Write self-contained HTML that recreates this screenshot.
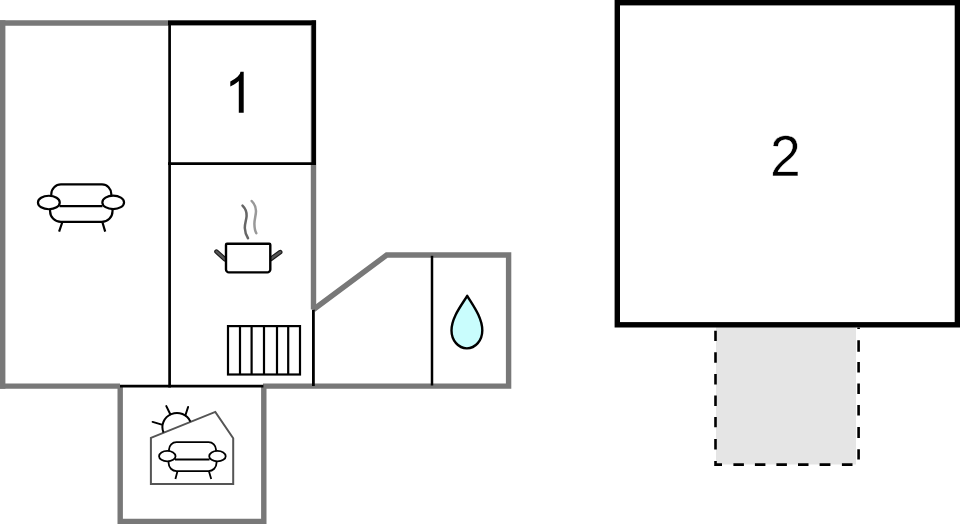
<!DOCTYPE html>
<html>
<head>
<meta charset="utf-8">
<style>
html,body{margin:0;padding:0;background:#fff;}
body{width:960px;height:524px;overflow:hidden;position:relative;font-family:"Liberation Sans",sans-serif;}
svg{position:absolute;left:0;top:0;display:block;}
</style>
</head>
<body>
<svg width="960" height="524" viewBox="0 0 960 524">
  <!-- dashed outdoor area -->
  <rect x="716" y="327" width="140" height="137.5" fill="#e5e5e5"/>
  <g stroke="#000" stroke-width="2.6" fill="none">
    <path d="M715.5 330.7V341M715.5 352.3V362.8M715.5 373.9V384.4M715.5 395.5V406M715.5 417V427.3M715.5 439.1V449.6M715.5 461V464.6H722"/>
    <path d="M733.4 464.6H743.9M754.9 464.6H765.4M776.4 464.6H786.9M798 464.6H808.5M819.6 464.6H830.4M841.9 464.6H852.5"/>
    <path d="M858.6 340.2V351.7M858.6 362V372.6M858.6 383.5V394M858.6 405V415.5M858.6 427V437.9M858.6 449.3V459.6M858.6 327.5V329"/>
  </g>

  <!-- grey walls -->
  <g stroke="#787878" stroke-width="5.4" fill="none" stroke-linejoin="miter" stroke-linecap="butt">
    <path d="M0 23H313.5V309.5"/>
    <path d="M2.7 20.3V388.8"/>
    <path d="M0 386.1H120"/>
    <path d="M263 386.1H508.6V255H386.7L313.5 309.5"/>
    <path d="M120.2 386V521.4H263.8V386"/>
  </g>

  <!-- black interior lines -->
  <g stroke="#000" fill="none" stroke-linecap="butt">
    <path d="M168 22.8H316" stroke-width="4.4"/>
    <path d="M313.8 20.6V165" stroke-width="4.3"/>
    <path d="M169.6 21V387.5" stroke-width="2.7"/>
    <path d="M168 163.6H316" stroke-width="2.7"/>
    <path d="M313.4 309.7V386" stroke-width="2.8"/>
    <path d="M120 386.2H263.4" stroke-width="2.8"/>
    <path d="M432 255.8V385.5" stroke-width="2.5"/>
  </g>

  <!-- room 2 -->
  <rect x="617.3" y="2.7" width="340.1" height="322.1" fill="none" stroke="#000" stroke-width="5.4"/>

  <!-- big sofa -->
  <g stroke="#000" stroke-width="2.2" fill="none">
    <path d="M51.3 195.5V194A9.7 9.7 0 0 1 61 184.4H102A9.3 9.6 0 0 1 111.3 194V195.5"/>
    <path d="M59.5 206.2H102.5"/>
    <path d="M50.1 208V211.2A10.8 10.7 0 0 0 60.9 221.9H101.8A10.7 10.7 0 0 0 112.5 211.2V208"/>
    <ellipse cx="48.85" cy="202.5" rx="10.9" ry="6.75" fill="#fff"/>
    <ellipse cx="113.2" cy="202.4" rx="10.85" ry="6.7" fill="#fff"/>
    <path d="M62.2 222.5L59.1 231.6M102.5 222.5L105.2 231.6"/>
  </g>

  <!-- pot -->
  <g>
    <path d="M242.5 205.6C245.5 208.5 246.8 212 246.6 216C246.4 220 244.6 224 244.8 228C245 232 246.2 235.5 248 238.2" stroke="#666" stroke-width="2.5" fill="none" stroke-linecap="round"/>
    <path d="M251.7 201C254.5 204 256 207 256 211C256 215 254.3 219.5 254.4 224C254.5 228 255 231 256.3 233.1" stroke="#999" stroke-width="2.5" fill="none" stroke-linecap="round"/>
    <path d="M216.5 251.6L225 259.3M280.2 252.1L271 258.8" stroke="#1a1a1a" stroke-width="4.6" stroke-linecap="round"/>
    <path d="M216.5 251.6L225 259.3M280.2 252.1L271 258.8" stroke="#555" stroke-width="2.4" stroke-linecap="round"/>
    <path d="M226 244.7Q226 243.7 227 243.7H269.3Q270.3 243.7 270.3 244.7V269.4A3 3 0 0 1 267.3 272.4H229A3 3 0 0 1 226 269.4Z" stroke="#000" stroke-width="2.4" fill="#fff"/>
  </g>

  <!-- radiator -->
  <g stroke="#000" stroke-width="2.2" fill="none">
    <rect x="228" y="326.1" width="72" height="48.4"/>
    <path d="M240 326.1V374.5M251.6 326.1V374.5M264 326.1V374.5M277 326.1V374.5M288.2 326.1V374.5"/>
  </g>

  <!-- water drop -->
  <path d="M467.2 295.8C472 304 482.3 317 482.3 330.5A15.4 17.9 0 0 1 451.5 330.5C451.5 317 462.4 304 467.2 295.8Z" fill="#c9fdfd" stroke="#000" stroke-width="2.4" stroke-linejoin="round"/>

  <!-- conservatory icon -->
  <g>
    <path d="M150.9 484V437.9L215.3 411.9L233.2 438.2V484Z" stroke="#555" stroke-width="2" fill="none" stroke-linejoin="miter"/>
    <path d="M163.55 432.5A14.5 14 0 0 1 190.4 421.6" stroke="#000" stroke-width="2" fill="none"/>
    <path d="M152.6 421.9L161.8 424.6M166.3 406.1L170.3 414.2M188.1 407L185.4 415.3" stroke="#000" stroke-width="2" fill="none" stroke-linecap="round"/>
  </g>
  <g stroke="#000" stroke-width="1.8" fill="none">
    <path d="M169 451V449.6A7.5 7.5 0 0 1 176.5 442.1H208.5A7.5 7.5 0 0 1 216 449.6V451"/>
    <path d="M175 459.5H209.5"/>
    <path d="M168.6 461V463.1A8 8 0 0 0 176.6 471.1H208.5A8 8 0 0 0 216.5 463.1V461"/>
    <ellipse cx="167.3" cy="456.15" rx="8.25" ry="5.25" fill="#fff"/>
    <ellipse cx="217.45" cy="456.15" rx="8.25" ry="5.25" fill="#fff"/>
    <path d="M177.4 471.5L175.4 479M209 471.5L211.2 479"/>
  </g>
  <!-- numbers -->
  <path d="M243.7 112.8H238.8V81Q236.9 82.8 234.1 84.5T230.3 86.4V81.4Q234.5 79.4 237.5 76.7T240.5 71.8H243.7Z" fill="#000"/>
  <text x="0" y="0" transform="translate(769.9 175.9) scale(0.962 1.012)" font-family="Liberation Sans" font-size="57.5" fill="#000" stroke="#fff" stroke-width="0.5">2</text>
</svg>
</body>
</html>
